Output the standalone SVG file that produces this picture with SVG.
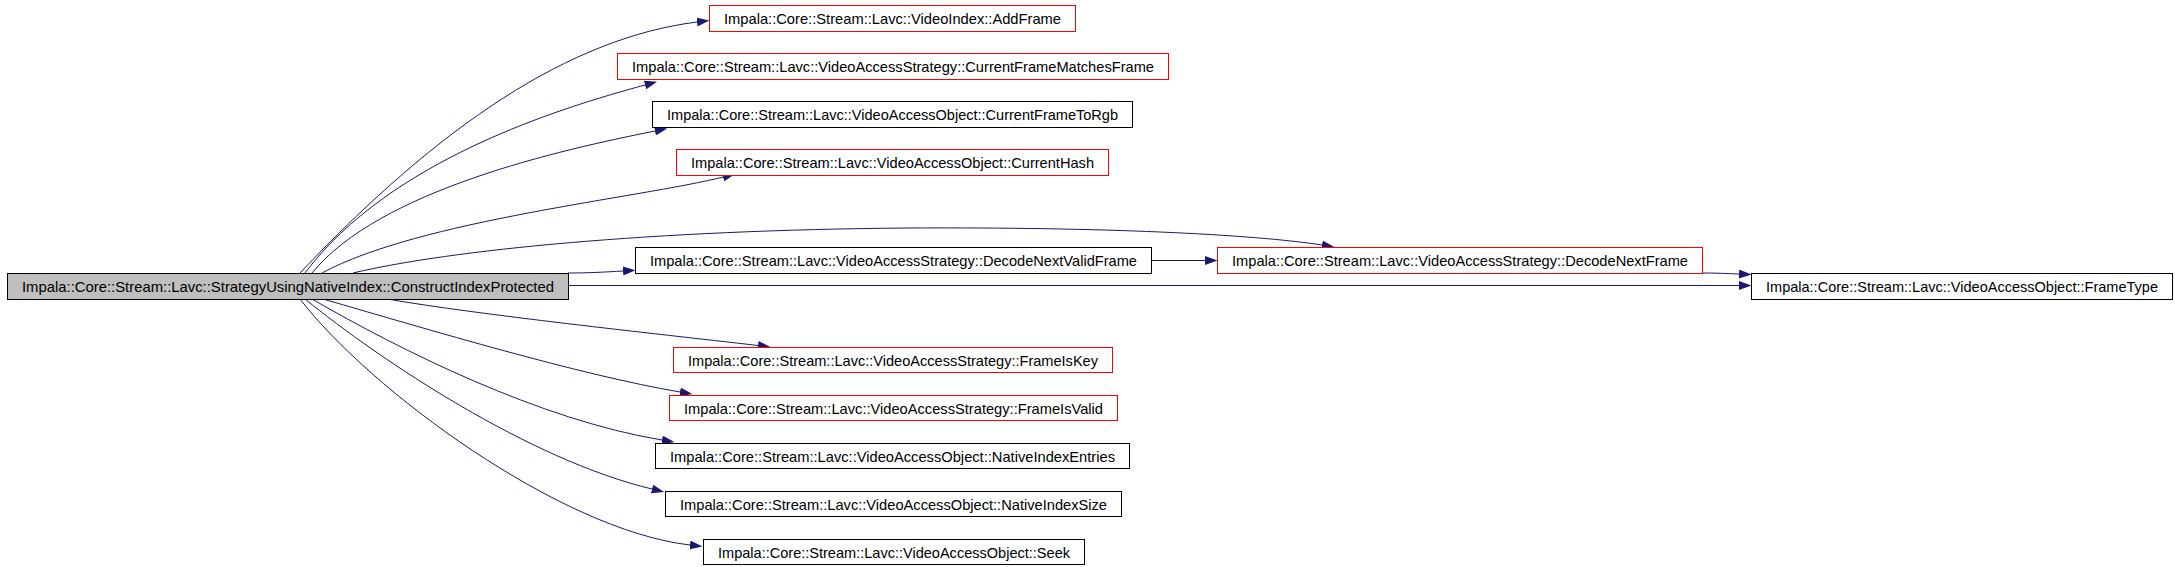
<svg xmlns="http://www.w3.org/2000/svg" width="2175" height="567" viewBox="0 0 2175 567">
<style>
.box{fill:#ffffff;stroke:#000000;stroke-width:1}
.red{stroke:#ff0000}
.main{fill:#bfbfbf}
.lbl{font-family:"Liberation Sans",Arial,sans-serif;font-size:14.5px;fill:#000000;text-anchor:middle}
.edge{fill:none;stroke:#191970;stroke-width:1;marker-end:url(#arr)}
</style>
<defs>
<marker id="arr" markerUnits="userSpaceOnUse" viewBox="0 0 12.5 9" markerWidth="12.5" markerHeight="9" refX="0" refY="4.5" orient="auto">
<path d="M0,0 L12.5,4.5 L0,9 Z" fill="#191970"/>
</marker>
</defs>
<rect width="2175" height="567" fill="#ffffff"/>
<g id="edges">
<path class="edge" d="M300,273 C440,125 570,38 697,22"/>
<path class="edge" d="M305,273 C390,160 560,108 645,85"/>
<path class="edge" d="M312,273 C380,190 560,150 655,131"/>
<path class="edge" d="M322,273 C420,220 640,198 723,177"/>
<path class="edge" d="M353,273 C450,250 650,230 909,228 C1100,227 1250,234 1322,245"/>
<path class="edge" d="M568,273 C590,273 605,272 623,271"/>
<path class="edge" d="M1151,260.5 L1205,260.5"/>
<path class="edge" d="M1702,273 C1715,273 1728,273.5 1739,274"/>
<path class="edge" d="M568,285.5 L1739,285.5"/>
<path class="edge" d="M387,299 C480,315 650,333 758,345.5"/>
<path class="edge" d="M323,299 C430,330 580,375 680,392"/>
<path class="edge" d="M312,299 C400,350 540,420 662,440"/>
<path class="edge" d="M305,299 C380,360 530,460 652,489"/>
<path class="edge" d="M300,299 C370,390 560,530 690,545"/>
</g>
<g id="node_main"><rect class="box main" x="7.5" y="273.5" width="561" height="26"/><text class="lbl" x="288" y="292" textLength="532" lengthAdjust="spacingAndGlyphs">Impala::Core::Stream::Lavc::StrategyUsingNativeIndex::ConstructIndexProtected</text></g>
<g id="node_addframe"><rect class="box red" x="709.5" y="5.5" width="366" height="26"/><text class="lbl" x="892.5" y="24" textLength="337" lengthAdjust="spacingAndGlyphs">Impala::Core::Stream::Lavc::VideoIndex::AddFrame</text></g>
<g id="node_cfmf"><rect class="box red" x="617.5" y="53.5" width="551" height="26"/><text class="lbl" x="893" y="72" textLength="522" lengthAdjust="spacingAndGlyphs">Impala::Core::Stream::Lavc::VideoAccessStrategy::CurrentFrameMatchesFrame</text></g>
<g id="node_cftr"><rect class="box" x="652.5" y="101.5" width="480" height="26"/><text class="lbl" x="892.5" y="120" textLength="451" lengthAdjust="spacingAndGlyphs">Impala::Core::Stream::Lavc::VideoAccessObject::CurrentFrameToRgb</text></g>
<g id="node_ch"><rect class="box red" x="676.5" y="149.5" width="432" height="26"/><text class="lbl" x="892.5" y="168" textLength="403" lengthAdjust="spacingAndGlyphs">Impala::Core::Stream::Lavc::VideoAccessObject::CurrentHash</text></g>
<g id="node_dnvf"><rect class="box" x="635.5" y="247.5" width="516" height="26"/><text class="lbl" x="893.5" y="266" textLength="487" lengthAdjust="spacingAndGlyphs">Impala::Core::Stream::Lavc::VideoAccessStrategy::DecodeNextValidFrame</text></g>
<g id="node_dnf"><rect class="box red" x="1217.5" y="247.5" width="485" height="26"/><text class="lbl" x="1460" y="266" textLength="456" lengthAdjust="spacingAndGlyphs">Impala::Core::Stream::Lavc::VideoAccessStrategy::DecodeNextFrame</text></g>
<g id="node_ft"><rect class="box" x="1751.5" y="273.5" width="421" height="26"/><text class="lbl" x="1962" y="292" textLength="392" lengthAdjust="spacingAndGlyphs">Impala::Core::Stream::Lavc::VideoAccessObject::FrameType</text></g>
<g id="node_fik"><rect class="box red" x="673.5" y="347.5" width="439" height="25"/><text class="lbl" x="893" y="365.5" textLength="410" lengthAdjust="spacingAndGlyphs">Impala::Core::Stream::Lavc::VideoAccessStrategy::FrameIsKey</text></g>
<g id="node_fiv"><rect class="box red" x="669.5" y="395.5" width="448" height="25"/><text class="lbl" x="893.5" y="413.5" textLength="419" lengthAdjust="spacingAndGlyphs">Impala::Core::Stream::Lavc::VideoAccessStrategy::FrameIsValid</text></g>
<g id="node_nie"><rect class="box" x="655.5" y="443.5" width="474" height="25"/><text class="lbl" x="892.5" y="461.5" textLength="445" lengthAdjust="spacingAndGlyphs">Impala::Core::Stream::Lavc::VideoAccessObject::NativeIndexEntries</text></g>
<g id="node_nis"><rect class="box" x="665.5" y="491.5" width="456" height="25"/><text class="lbl" x="893.5" y="509.5" textLength="427" lengthAdjust="spacingAndGlyphs">Impala::Core::Stream::Lavc::VideoAccessObject::NativeIndexSize</text></g>
<g id="node_seek"><rect class="box" x="703.5" y="539.5" width="381" height="25"/><text class="lbl" x="894" y="557.5" textLength="352" lengthAdjust="spacingAndGlyphs">Impala::Core::Stream::Lavc::VideoAccessObject::Seek</text></g>
</svg>
